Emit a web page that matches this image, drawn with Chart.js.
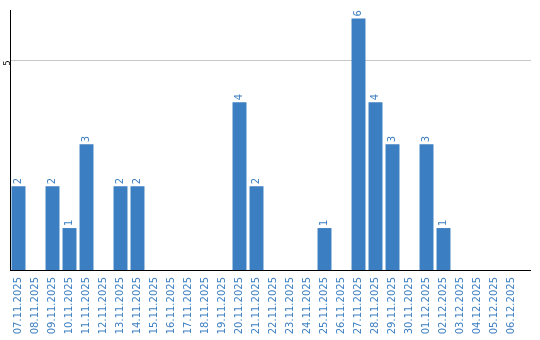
<!DOCTYPE html>
<html><head><meta charset="utf-8">
<script src="https://cdn.jsdelivr.net/npm/chart.js@4/dist/chart.umd.min.js"></script>
<style>html,body{margin:0;padding:0;background:#fff}#wrap{width:540px;height:340px}</style>
</head><body><div id="wrap"><canvas id="c" width="540" height="340"></canvas></div>
<script>
const categories = ["07.11.2025","08.11.2025","09.11.2025","10.11.2025","11.11.2025","12.11.2025","13.11.2025","14.11.2025","15.11.2025","16.11.2025","17.11.2025","18.11.2025","19.11.2025","20.11.2025","21.11.2025","22.11.2025","23.11.2025","24.11.2025","25.11.2025","26.11.2025","27.11.2025","28.11.2025","29.11.2025","30.11.2025","01.12.2025","02.12.2025","03.12.2025","04.12.2025","05.12.2025","06.12.2025"];
const values = [2,0,2,1,3,0,2,2,0,0,0,0,0,4,2,0,0,0,1,0,6,4,3,0,3,1,0,0,0,0];
const yTicks = [5];

const BLUE = '#3b7ec2';
const EXTEND = 11;
const extendPlugin = {
  id: 'extendLines',
  beforeDatasetsDraw(chart) {
    const ctx = chart.ctx, a = chart.chartArea, y = chart.scales.y;
    ctx.save();
    ctx.lineWidth = 1;
    ctx.strokeStyle = '#c8c8c8';
    yTicks.forEach(t => {
      const py = Math.round(y.getPixelForValue(t)) + 0.5;
      ctx.beginPath(); ctx.moveTo(a.right, py); ctx.lineTo(a.right + EXTEND, py); ctx.stroke();
    });
    ctx.strokeStyle = '#000';
    const by = Math.round(a.bottom) + 0.5;
    ctx.beginPath(); ctx.moveTo(a.right - 1, by); ctx.lineTo(a.right + EXTEND, by); ctx.stroke();
    ctx.restore();
  }
};
const labelPlugin = {
  id: 'barLabels',
  afterDatasetsDraw(chart) {
    const ctx = chart.ctx;
    const meta = chart.getDatasetMeta(0);
    ctx.save();
    ctx.fillStyle = '#3d7fc1';
    ctx.font = '10px "DejaVu Sans"';
    ctx.textAlign = 'left';
    ctx.textBaseline = 'middle';
    meta.data.forEach((bar, i) => {
      const v = values[i];
      if (!v) return;
      ctx.save();
      ctx.translate(bar.x, bar.y - 2);
      ctx.rotate(-Math.PI / 2);
      ctx.fillText(String(v), 0, 0);
      ctx.restore();
    });
    ctx.restore();
  }
};

new Chart(document.getElementById('c'), {
  type: 'bar',
  data: { labels: categories, datasets: [{ data: values, backgroundColor: BLUE, barPercentage: 0.82, categoryPercentage: 1 }] },
  options: {
    responsive: false, animation: false,
    layout: { padding: { top: 10, right: 20, left: 0, bottom: 0 } },
    plugins: { legend: { display: false }, tooltip: { enabled: false } },
    scales: {
      x: {
        grid: { display: false, drawTicks: false },
        border: { color: '#000', width: 1 },
        ticks: { color: '#3d7fc1', font: { family: 'DejaVu Sans', size: 10 }, minRotation: 90, maxRotation: 90, autoSkip: false, padding: 7 },
        afterFit(s) { s.height = 70; }
      },
      y: {
        min: 0, max: 6.2,
        afterBuildTicks(s) { s.ticks = yTicks.map(v => ({ value: v })); },
        grid: { drawTicks: false, color: '#c8c8c8', lineWidth: 1 },
        border: { color: '#000', width: 1 },
        ticks: { color: '#000', font: { family: 'DejaVu Sans', size: 8 }, minRotation: 90, maxRotation: 90, padding: 2 },
        afterFit(s) { s.width = 10; }
      }
    }
  },
  plugins: [extendPlugin, labelPlugin]
});
</script>
</body></html>
